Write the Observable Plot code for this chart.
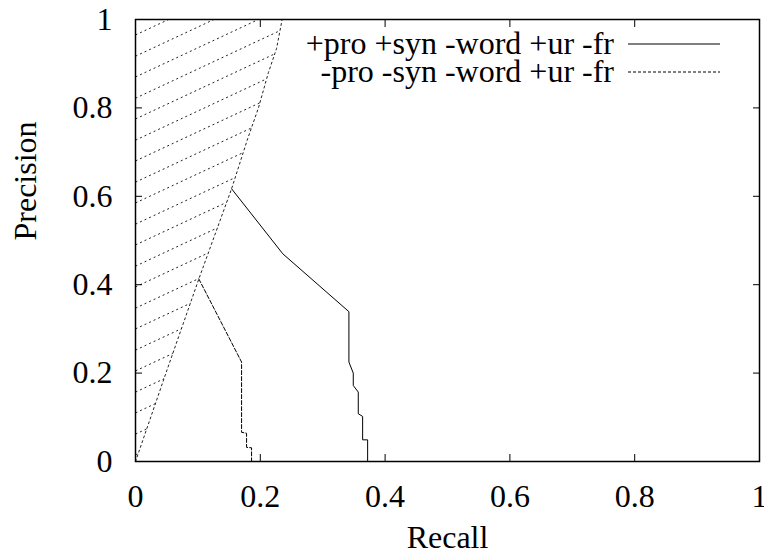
<!DOCTYPE html>
<html><head><meta charset="utf-8">
<script src="https://cdn.jsdelivr.net/npm/d3@7"></script>
<script src="https://cdn.jsdelivr.net/npm/@observablehq/plot@0.6"></script>
<style>
body{margin:0;background:#fff}
#chart svg text { font-family: "Liberation Serif", "DejaVu Serif", serif !important; font-size: 32px !important; }
#chart svg { overflow: visible; }
</style>
</head><body><div id="chart"></div>
<script>
const tickValues = [0, 0.2, 0.4, 0.6, 0.8, 1];
const tickLabels = ["0", "0.2", "0.4", "0.6", "0.8", "1"];
const seriesNames = ["+pro +syn -word +ur -fr", "-pro -syn -word +ur -fr"];
const solidRecall    = [0.154, 0.236, 0.342, 0.342, 0.349, 0.349, 0.357, 0.357, 0.364, 0.364, 0.372, 0.372];
const solidPrecision = [0.617, 0.470, 0.339, 0.225, 0.200, 0.172, 0.157, 0.108, 0.102, 0.049, 0.049, 0];
const dashedRecall    = [0.1015, 0.170, 0.170, 0.178, 0.178, 0.186, 0.186];
const dashedPrecision = [0.413, 0.225, 0.066, 0.064, 0.032, 0.031, 0];
const boundaryRecall    = [0, 0.05, 0.1015, 0.154, 0.179, 0.197, 0.213, 0.226, 0.235];
const boundaryPrecision = [0, 0.205, 0.413, 0.617, 0.727, 0.80, 0.88, 0.934, 1];
const hatchIntercepts = [0.015, 0.062, 0.110, 0.157, 0.205, 0.252, 0.300, 0.347, 0.395, 0.442, 0.490, 0.537, 0.585, 0.632, 0.680, 0.727, 0.775, 0.822, 0.870, 0.917, 0.965];
const hatchSlope = 0.66;
const serifFont = "Liberation Serif";

function hatchEnd(c) {
  const xTop = (1 - c) / hatchSlope;
  for (let i = 1; i < boundaryRecall.length; i++) {
    const x0 = boundaryRecall[i - 1], x1 = boundaryRecall[i];
    const g0 = boundaryPrecision[i - 1] - (c + hatchSlope * x0);
    const g1 = boundaryPrecision[i] - (c + hatchSlope * x1);
    if (g0 < 0 && g1 >= 0) {
      const x = x0 + (x1 - x0) * (-g0) / (g1 - g0);
      return Math.min(x, xTop);
    }
  }
  return xTop;
}
const hatch = hatchIntercepts.map(c => {
  const xe = hatchEnd(c);
  return {x1: 0, y1: c, x2: xe, y2: c + hatchSlope * xe};
});
const solid = solidRecall.map((r, i) => [r, solidPrecision[i]]);
const dashed = dashedRecall.map((r, i) => [r, dashedPrecision[i]]);
const boundary = boundaryRecall.map((r, i) => [r, boundaryPrecision[i]]);
const fmt = d => tickLabels[tickValues.indexOf(d)];

const legend = (index, scales, values, dims) => {
  const g = d3.create("svg:g");
  const right = dims.width - dims.marginRight;
  seriesNames.forEach((name, i) => {
    const cy = dims.marginTop + 25 + i * 28;
    g.append("text").attr("x", right - 145).attr("y", cy).attr("dy", "0.32em")
      .attr("text-anchor", "end").attr("fill", "black").text(name);
    g.append("line").attr("x1", right - 131).attr("x2", right - 39)
      .attr("y1", cy).attr("y2", cy).attr("stroke", "black").attr("stroke-width", 1)
      .attr("stroke-dasharray", i ? "3,2" : null);
  });
  return g.node();
};

const chart = Plot.plot({
  width: 764, height: 554,
  marginLeft: 135, marginRight: 5, marginTop: 19, marginBottom: 93,
  style: {background: "white", color: "black"},
  x: {domain: [0, 1], label: null},
  y: {domain: [0, 1], label: null},
  marks: [
    Plot.link(hatch, {x1: "x1", y1: "y1", x2: "x2", y2: "y2", stroke: "#222", strokeWidth: 1, strokeDasharray: "2,3"}),
    Plot.line(boundary, {stroke: "#222", strokeWidth: 1, strokeDasharray: "2,3"}),
    Plot.line(solid, {stroke: "black", strokeWidth: 1}),
    Plot.line(dashed, {stroke: "black", strokeWidth: 1, strokeDasharray: "4,2"}),
    Plot.axisX({anchor: "bottom", ticks: tickValues, tickFormat: fmt, tickSize: -7, tickPadding: 30, label: null}),
    Plot.axisX({anchor: "top", ticks: tickValues, tickFormat: () => "", tickSize: -7, label: null}),
    Plot.axisY({anchor: "left", ticks: tickValues, tickFormat: fmt, tickSize: -7, tickPadding: 30, label: null}),
    Plot.axisY({anchor: "right", ticks: tickValues, tickFormat: () => "", tickSize: -7, label: null}),
    Plot.frame({stroke: "black", strokeWidth: 1.5}),
    Plot.text(["Recall"], {frameAnchor: "bottom", dy: 76, text: d => d, lineAnchor: "middle"}),
    Plot.text(["Precision"], {frameAnchor: "left", dx: -110, rotate: -90, text: d => d, lineAnchor: "middle"}),
    legend
  ]
});
d3.select(chart).attr("font-family", serifFont).attr("font-size", 32);
document.getElementById("chart").appendChild(chart);
</script>
</body></html>
